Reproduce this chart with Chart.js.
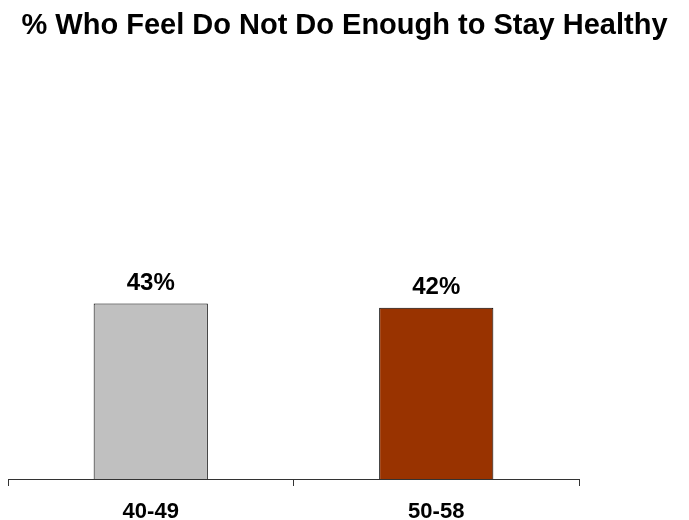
<!DOCTYPE html>
<html>
<head>
<meta charset="utf-8">
<script src="https://cdn.jsdelivr.net/npm/chart.js@4/dist/chart.umd.min.js"></script>
<style>
  body { margin: 0; background: #fff; }
  #wrap { width: 689px; height: 520px; }
</style>
</head>
<body>
<div id="wrap"><canvas id="healthChart"></canvas></div>
<script>
// DATA
const categories = ["40-49", "50-58"];
const values = [43, 42];
const barColors = ["#C0C0C0", "#993300"];
const chartTitle = "% Who Feel Do Not Do Enough to Stay Healthy";

const FONT = "'Liberation Sans', Arial, sans-serif";

// percent labels above the bars
const barLabels = {
  id: "barLabels",
  afterDatasetsDraw(chart) {
    const ctx = chart.ctx;
    const meta = chart.getDatasetMeta(0);
    ctx.save();
    ctx.fillStyle = "#000";
    ctx.font = "bold 24px " + FONT;
    ctx.textAlign = "center";
    ctx.textBaseline = "alphabetic";
    meta.data.forEach((bar, i) => {
      ctx.fillText(values[i] + "%", bar.x, bar.y - 14);
    });
    ctx.restore();
  }
};

new Chart(document.getElementById("healthChart"), {
  type: "bar",
  data: {
    labels: categories,
    datasets: [{
      data: values,
      backgroundColor: barColors,
      borderColor: "#000",
      borderWidth: 1,
      categoryPercentage: 1,
      barPercentage: 0.4
    }]
  },
  options: {
    responsive: true,
    maintainAspectRatio: false,
    animation: false,
    layout: { padding: 0 },
    plugins: {
      legend: { display: false },
      tooltip: { enabled: false },
      title: {
        display: true,
        text: chartTitle,
        color: "#000",
        font: { family: FONT, size: 29, weight: "bold", lineHeight: 1.2 },
        padding: { top: 8.6, bottom: 27.6 }
      }
    },
    scales: {
      x: {
        grid: {
          display: true,
          drawOnChartArea: false,
          drawTicks: true,
          tickLength: 7,
          color: "#333"
        },
        border: { display: true, color: "#333", width: 1 },
        ticks: {
          color: "#000",
          padding: 12.5,
          font: { family: FONT, size: 22, weight: "bold" }
        },
        afterFit: s => { s.height = 41; }
      },
      y: {
        position: "right",
        min: 0,
        max: 100,
        grid: { display: false },
        border: { display: false },
        ticks: { display: false },
        afterFit: s => { s.width = 110; }
      },
      yl: {
        type: "linear",
        position: "left",
        grid: { display: false },
        border: { display: false },
        ticks: { display: false },
        afterFit: s => { s.width = 8; }
      }
    }
  },
  plugins: [barLabels]
});
</script>
</body>
</html>
